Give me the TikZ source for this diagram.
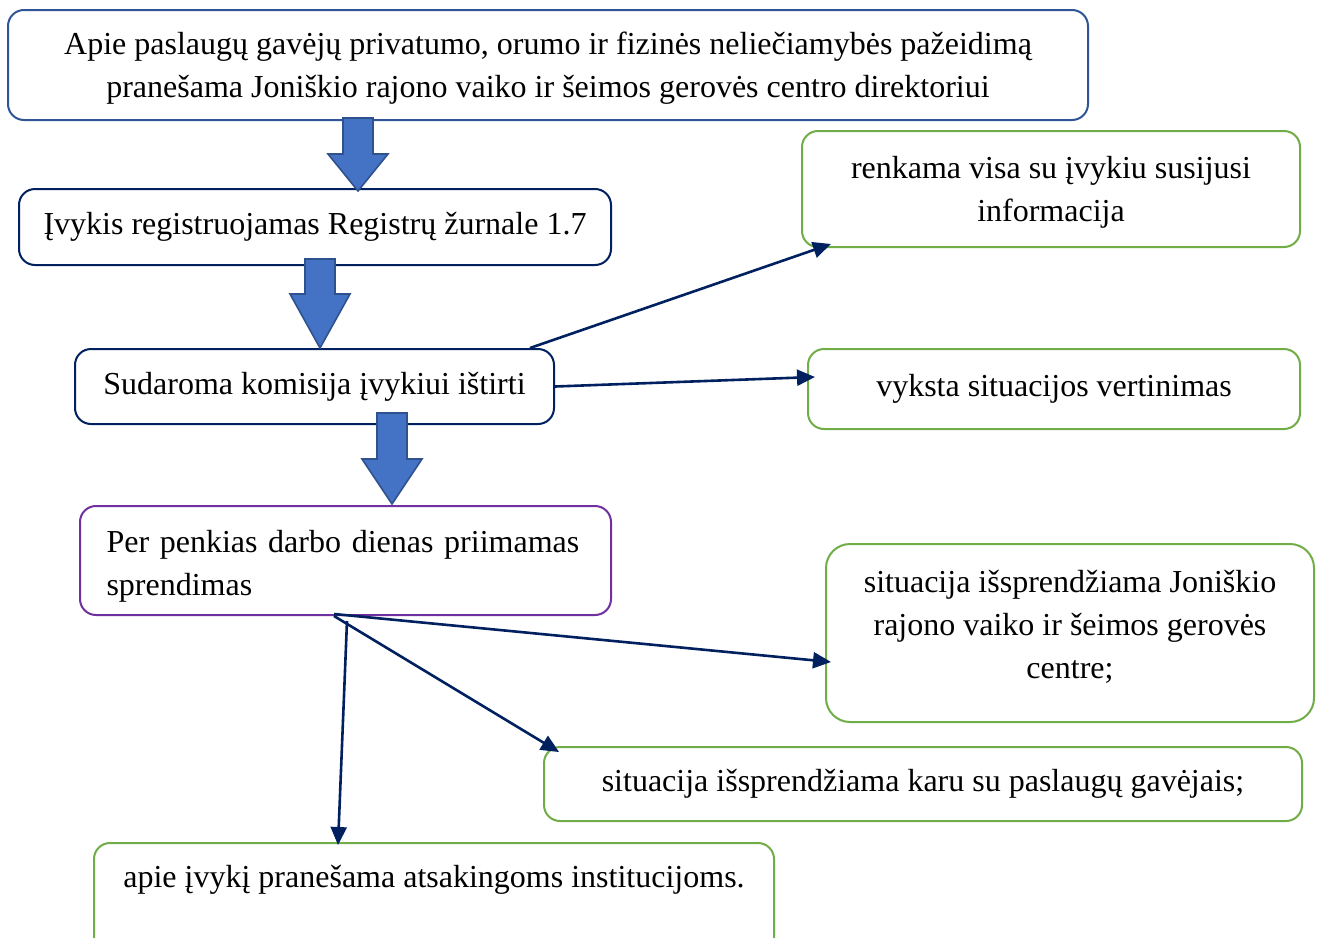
\documentclass[tikz,border=0pt]{standalone}
\usepackage{fontspec}
\setmainfont{Liberation Serif}
\usetikzlibrary{positioning}
\usetikzlibrary{arrows.meta}
\definecolor{topblue}{RGB}{47,85,151}
\definecolor{navy}{RGB}{0,32,96}
\definecolor{boxpurple}{RGB}{112,48,160}
\definecolor{boxgreen}{RGB}{112,173,71}
\definecolor{blockfill}{RGB}{68,114,196}
\definecolor{blockline}{RGB}{47,82,143}

\newcommand{\blockarrow}[3]{%
  \draw[blockarrow] ([xshift=-7.5pt]#1) -- ([xshift=7.5pt]#1)
    -- ([xshift=7.5pt,yshift=#3]#2) -- ([xshift=15pt,yshift=#3]#2) -- (#2)
    -- ([xshift=-15pt,yshift=#3]#2) -- ([xshift=-7.5pt,yshift=#3]#2) -- cycle;}

\begin{document}
\begin{tikzpicture}[
  x = 0.5pt, y = -0.5pt,
  box/.style = {draw, rounded corners=8pt, line width=1pt, align=center,
    inner sep=0pt, font=\fontsize{16}{21.5}\selectfont},
  stepbox/.style = {box, draw=navy},
  greenbox/.style = {box, draw=boxgreen},
  link/.style = {line width=1.3pt, draw=navy, -{Triangle[length=9pt,width=8pt]}},
  blockarrow/.style = {fill=blockfill, draw=blockline, line width=0.8pt},
]

  \useasboundingbox (0,0) rectangle (1321,937);

  \node[box, draw=topblue, minimum width=540pt, minimum height=55pt, text depth=-3.5pt] (report) at (548,65)
    {Apie paslaugų gavėjų privatumo, orumo ir fizinės neliečiamybės pažeidimą\\
     pranešama Joniškio rajono vaiko ir šeimos gerovės centro direktoriui};
  \node[stepbox, minimum width=296pt, minimum height=38pt] (register) at (315,227)
    {Įvykis registruojamas Registrų žurnale 1.7};
  \node[stepbox, minimum width=239.5pt, minimum height=37.5pt] (commission) at (314.5,386.5)
    {Sudaroma komisija įvykiui ištirti};
  \node[box, draw=boxpurple, minimum width=265.5pt, minimum height=54.5pt,
    text width=239pt, align=left, text depth=19.5pt] (decision) at (345.5,560.5)
    {Per penkias darbo dienas priimamas\\sprendimas};

  \node[greenbox, minimum width=249pt, minimum height=58pt, text depth=0pt] (collect) at (1051,189)
    {renkama visa su įvykiu susijusi\\informacija};
  \node[greenbox, minimum width=246pt, minimum height=40pt] (assess) at (1054,389)
    {vyksta situacijos vertinimas};
  \node[greenbox, rounded corners=12pt, minimum width=244pt, minimum height=89pt,
    text depth=8.2pt] (centre) at (1070,633)
    {situacija išsprendžiama Joniškio\\rajono vaiko ir šeimos gerovės\\centre;};
  \node[greenbox, minimum width=379pt, minimum height=37pt] (together) at (923,784)
    {situacija išsprendžiama karu su paslaugų gavėjais;};
  \node[greenbox, minimum width=340pt, text height=22pt, text depth=40pt,
    anchor=north] (inform) at (434,842)
    {apie įvykį pranešama atsakingoms institucijoms.};

  \coordinate (a1s) at ([xshift=-95pt,yshift=1.5pt]report.south);
  \coordinate (a1t) at ([yshift=-1.5pt]a1s |- register.north);
  \coordinate (a2s) at ([xshift=2.5pt,yshift=3.5pt]register.south);
  \coordinate (a2t) at (a2s |- commission.north);
  \coordinate (a3s) at ([xshift=38.75pt,yshift=6pt]commission.south);
  \coordinate (a3t) at ([yshift=0.5pt]a3s |- decision.north);

  \blockarrow{a1s}{a1t}{18.5pt}
  \blockarrow{a2s}{a2t}{27pt}
  \blockarrow{a3s}{a3t}{22.5pt}

  \draw[link] ([xshift=107.75pt]commission.north) -- ([xshift=15pt,yshift=2pt]collect.south west);
  \draw[link] (commission.east) -- ([xshift=4pt,yshift=6pt]assess.west);
  \draw[link] ([xshift=-5.75pt,yshift=1pt]decision.south) -- ([xshift=3pt,yshift=-14.5pt]centre.west);
  \draw[link] ([xshift=-5.75pt]decision.south) -- ([xshift=8pt,yshift=-3pt]together.north west);
  \draw[link] ([xshift=0.75pt,yshift=-2.5pt]decision.south) -- ([xshift=-48pt,yshift=-1.5pt]inform.north);

\end{tikzpicture}
\end{document}
